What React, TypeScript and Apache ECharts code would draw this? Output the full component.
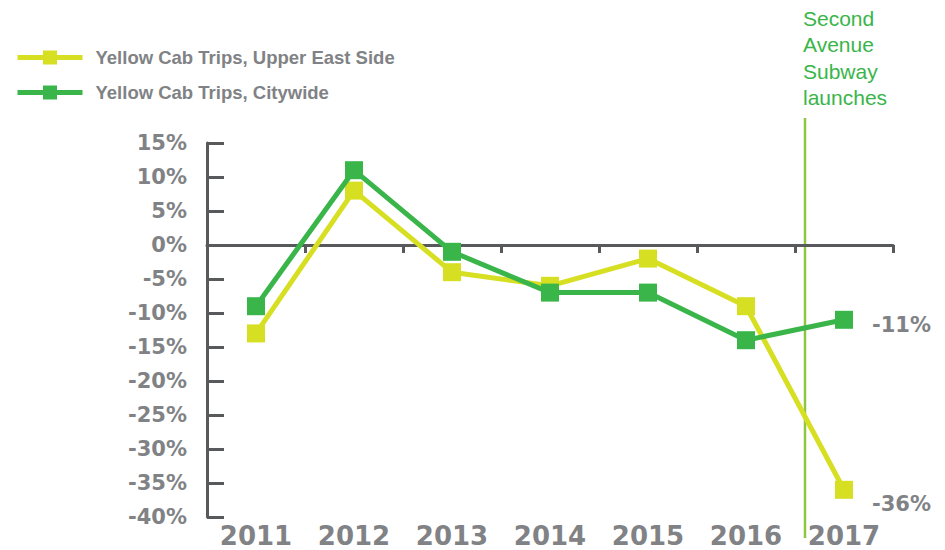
import React, { useEffect, useRef } from "react";
import * as echarts from "echarts";

const years = ["2011", "2012", "2013", "2014", "2015", "2016", "2017"];
const upperEastSide = [-13, 8, -4, -6, -2, -9, -36];
const citywide = [-9, 11, -1, -7, -7, -14, -11];
const seriesNames = ["Yellow Cab Trips, Upper East Side", "Yellow Cab Trips, Citywide"];
const annotationText = "Second\nAvenue\nSubway\nlaunches";

const YELLOW = "#d7df23";
const GREEN = "#39b54a";
const GRAY = "#808285";
const AXIS = "#58595b";

export default function App() {
  const ref = useRef<HTMLDivElement>(null);
  useEffect(() => {
    if (!ref.current) return;
    const chart = echarts.init(ref.current, null, { renderer: "svg" });
    const lastLabel = (v: number, dy: number) => ({
      value: v,
      label: {
        show: true,
        position: "right",
        distance: 19,
        offset: [0, dy],
        formatter: `${v}%`,
        color: GRAY,
        fontFamily: "DejaVu Sans",
        fontWeight: "bold",
        fontSize: 21,
      },
    });
    const ues = upperEastSide.map((v, i) => (i === upperEastSide.length - 1 ? lastLabel(v, 14) : v));
    const city = citywide.map((v, i) => (i === citywide.length - 1 ? lastLabel(v, 5) : v));
    chart.setOption({
      animation: false,
      grid: { left: 207, right: 52, top: 143, bottom: 33, containLabel: false },
      legend: {
        orient: "vertical",
        left: 15,
        top: 48,
        padding: 0,
        itemWidth: 65,
        itemHeight: 17.5,
        itemGap: 16,
        data: seriesNames,
        lineStyle: { width: 5 },
        textStyle: {
          color: GRAY,
          fontFamily: "Liberation Sans",
          fontWeight: "bold",
          fontSize: 18.5,
          padding: [0, 0, 0, 8],
        },
      },
      xAxis: [
        {
          type: "category",
          data: years,
          position: "bottom",
          axisLine: { show: false, onZero: false },
          axisTick: { show: false },
          axisLabel: {
            color: GRAY,
            fontFamily: "DejaVu Sans",
            fontWeight: "bold",
            fontSize: 26,
            lineHeight: 26,
            margin: 6,
          },
        },
        {
          type: "category",
          data: years,
          position: "bottom",
          axisLine: { show: true, onZero: true, lineStyle: { color: AXIS, width: 3 } },
          axisTick: { show: true, length: 8, lineStyle: { color: AXIS, width: 3 } },
          axisLabel: { show: false },
        },
      ],
      yAxis: {
        type: "value",
        min: -40,
        max: 15,
        interval: 5,
        axisLine: { show: true, lineStyle: { color: AXIS, width: 3 } },
        axisTick: { show: true, inside: true, length: 17, lineStyle: { color: AXIS, width: 3 } },
        splitLine: { show: false },
        axisLabel: {
          formatter: "{value}%",
          color: GRAY,
          fontFamily: "DejaVu Sans",
          fontWeight: "bold",
          fontSize: 21,
          margin: 20,
        },
      },
      graphic: [
        {
          type: "line",
          z: 0,
          shape: { x1: 805, y1: 118, x2: 805, y2: 538 },
          style: { stroke: "#8dc63f", lineWidth: 2.5 },
        },
        {
          type: "text",
          left: 803,
          top: 5,
          style: {
            text: annotationText,
            fill: GREEN,
            font: '21px "Liberation Sans"',
            lineHeight: 26.5,
          },
        },
      ],
      series: [
        {
          name: seriesNames[0],
          type: "line",
          xAxisIndex: 0,
          data: ues,
          symbol: "rect",
          symbolSize: 18,
          color: YELLOW,
          lineStyle: { color: YELLOW, width: 5 },
          itemStyle: { color: YELLOW },
          z: 3,
        },
        {
          name: seriesNames[1],
          type: "line",
          xAxisIndex: 0,
          data: city,
          symbol: "rect",
          symbolSize: 18,
          color: GREEN,
          lineStyle: { color: GREEN, width: 5 },
          itemStyle: { color: GREEN },
          z: 4,
        },
      ],
    });
    return () => chart.dispose();
  }, []);
  return (
    <div
      ref={ref}
      style={{ position: "fixed", left: 0, top: 0, width: 945, height: 550, background: "#fff" }}
    />
  );
}
